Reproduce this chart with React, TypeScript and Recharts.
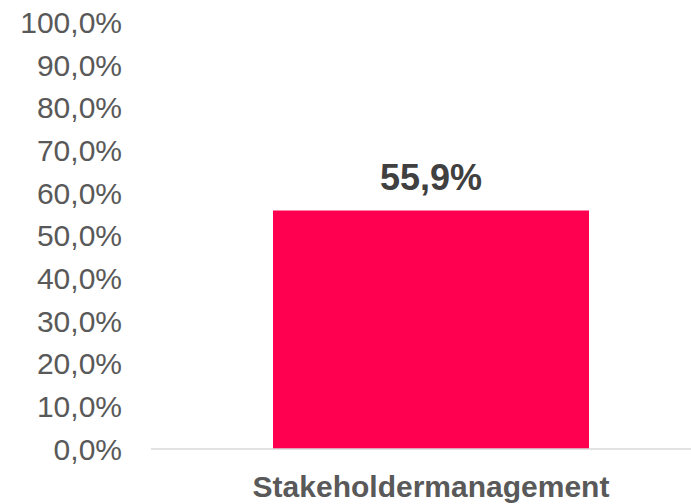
import { BarChart, Bar, XAxis, YAxis, LabelList } from "recharts";

const categories = ["Stakeholdermanagement"];
const shares = [0.559];
const yTicks = [0, 0.1, 0.2, 0.3, 0.4, 0.5, 0.6, 0.7, 0.8, 0.9, 1];

const data = categories.map((name, i) => ({ name, value: shares[i] }));

const pct = (v: number) => (v * 100).toFixed(1).replace(".", ",") + "%";

const font = "'Liberation Sans', Arial, sans-serif";

export default function App() {
	return (
		<div
			style={{
				position: "fixed",
				left: 0,
				top: 0,
				width: 691,
				height: 504,
				overflow: "hidden",
				background: "#fff",
			}}>
			<BarChart
				width={711}
				height={504}
				data={data}
				margin={{ top: 22.5, right: 0, left: 0, bottom: 0 }}>
				<XAxis
					dataKey='name'
					height={55}
					tickLine={false}
					tickSize={0}
					tickMargin={27}
					axisLine={{ stroke: "#D9D9D9", strokeWidth: 1.5 }}
					tick={{
						fill: "#595959",
						fontSize: 30,
						fontWeight: "bold",
						fontFamily: font,
					}}
				/>
				<YAxis
					width={151}
					domain={[0, 1]}
					ticks={yTicks}
					interval={0}
					axisLine={false}
					tickLine={false}
					tickSize={0}
					tickMargin={29}
					tickFormatter={pct}
					tick={{ fill: "#595959", fontSize: 30, fontFamily: font }}
				/>
				<Bar
					dataKey='value'
					fill='#FF0050'
					barSize={316}
					isAnimationActive={false}>
					<LabelList
						dataKey='value'
						position='top'
						offset={21}
						formatter={(v: any) => pct(Number(v))}
						fill='#404040'
						fontSize={36}
						fontWeight='bold'
						fontFamily={font}
					/>
				</Bar>
			</BarChart>
		</div>
	);
}
